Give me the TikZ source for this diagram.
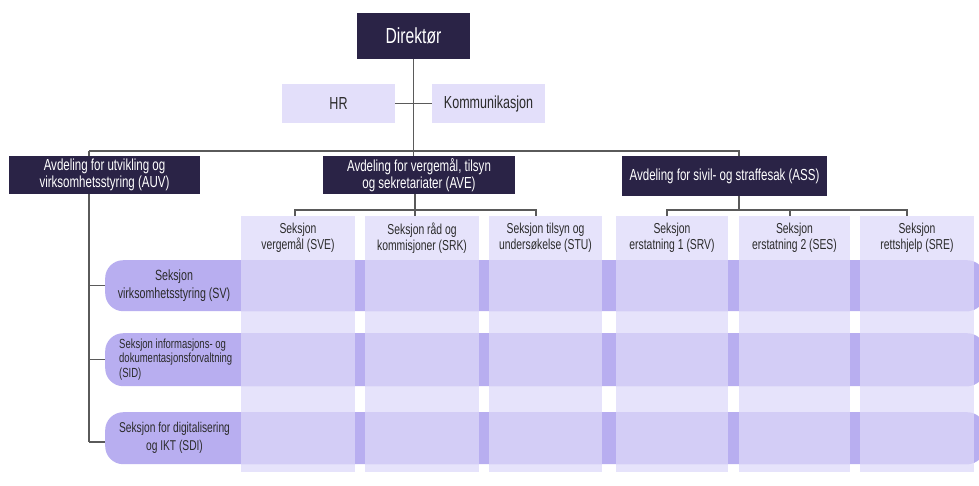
\documentclass[tikz,border=0pt]{standalone}
\usepackage{fontspec}
\setmainfont{Liberation Sans}[FakeStretch=0.72]
\usetikzlibrary{backgrounds,calc}
\pgfdeclarelayer{canvas}
\pgfsetlayers{canvas,background,main}
\definecolor{navy}{HTML}{2A2346}
\definecolor{lav}{HTML}{E3DFFA}
\definecolor{bandc}{HTML}{B8AEF0}
\definecolor{colc}{HTML}{E6E3FB}
\definecolor{lnc}{HTML}{5A5A5A}
\definecolor{txtc}{HTML}{2B2B2B}
\newcommand{\fsz}[2]{\fontsize{#1}{#2}\selectfont}
\begin{document}
\begin{tikzpicture}[x=1pt,y=-1pt,
  dark/.style={fill=navy,text=white,inner sep=0pt,align=center},
  light/.style={fill=lav,text=txtc,inner sep=0pt,align=center},
  conn/.style={draw=lnc,line width=1.1pt},
  colbox/.style={fill=colc,inner sep=0pt,minimum width=#1,minimum height=256pt,anchor=north},
  bandbox/.style={fill=bandc,inner sep=0pt,rounded corners=18pt,minimum width=880pt,anchor=north west},
  headtxt/.style={text=txtc,align=center,inner sep=0pt,font=\fsz{14.4}{15.6}},
  rowtxt/.style={text=txtc,inner sep=0pt}]
\useasboundingbox (0,0) rectangle (979,485);
\clip (0,0) rectangle (979,485);
\begin{pgfonlayer}{canvas}
\fill[white] (0,0) rectangle (979,485);
\end{pgfonlayer}

% top boxes
\node[dark,minimum width=113pt,minimum height=46pt,font=\fsz{21.8}{24}] (dir) at (413.5,36) {Direktør};
\node[light,minimum width=113pt,minimum height=39pt,font=\fsz{17.4}{20}] (hr) at (338.5,103.5) {HR};
\node[light,minimum width=113pt,minimum height=39pt,font=\fsz{17.4}{20}] (komm) at (488.5,103.5) {Kommunikasjon};

% departments
\node[dark,minimum width=191pt,minimum height=38pt,font=\fsz{16}{16.8}] (auv) at (104.5,175) {Avdeling for utvikling og\\virksomhetsstyring (AUV)};
\node[dark,minimum width=192pt,minimum height=38pt,font=\fsz{16}{16.8}] (ave) at (419,175) {Avdeling for vergemål, tilsyn\\og sekretariater (AVE)};
\node[dark,minimum width=205pt,minimum height=40pt,font=\fsz{16}{16.8}] (ass) at (724.5,176) {Avdeling for sivil- og straffesak (ASS)};

% columns
\node[colbox=114pt] (c1) at (298,216) {};
\node[colbox=114pt] (c2) at (422,216) {};
\node[colbox=113pt] (c3) at (545.5,216) {};
\node[colbox=112pt] (c4) at (672,216) {};
\node[colbox=111pt] (c5) at (794.5,216) {};
\node[colbox=114pt] (c6) at (917,216) {};

% row bands
\node[bandbox,minimum height=51pt] (r1) at (105,260) {};
\node[bandbox,minimum height=53pt] (r2) at (105,333) {};
\node[bandbox,minimum height=52pt] (r3) at (105,412) {};

% column overlays on bands
\foreach \c in {c1,c2,c3,c4,c5,c6}{
  \foreach \r in {r1,r2,r3}{
    \fill[colc,opacity=0.6] (\c.west |- \r.north) rectangle (\c.east |- \r.south);
  }
}

% header texts
\node[headtxt] (h1) at (298,238) {Seksjon\\vergemål (SVE)};
\node[headtxt] (h2) at (422,238) {Seksjon råd og\\kommisjoner (SRK)};
\node[headtxt] (h3) at (545.5,238) {Seksjon tilsyn og\\undersøkelse (STU)};
\node[headtxt] (h4) at (672,238) {Seksjon\\erstatning 1 (SRV)};
\node[headtxt] (h5) at (794.5,238) {Seksjon\\erstatning 2 (SES)};
\node[headtxt] (h6) at (917,238) {Seksjon\\rettshjelp (SRE)};

% row texts
\node[rowtxt,align=center,font=\fsz{14.8}{18}] (t1) at (174,285.5) {Seksjon\\virksomhetsstyring (SV)};
\node[rowtxt,align=left,anchor=west,font=\fsz{13.2}{14.3}] (t2) at (119,359.5) {Seksjon informasjons- og\\dokumentasjonsforvaltning\\(SID)};
\node[rowtxt,align=center,font=\fsz{14.2}{17.7}] (t3) at (174.5,438) {Seksjon for digitalisering\\og IKT (SDI)};

% connectors
\coordinate (busL) at (89,151);
\coordinate (busR) at (739,151);
\coordinate (auvEnd) at (89,442);
\coordinate (aveB) at (415,210);
\coordinate (aveL) at (295,210);
\coordinate (aveR) at (536,210);
\coordinate (assB) at (739,210);
\coordinate (assL) at (667,210);
\coordinate (assM) at (790,210);
\coordinate (assR) at (907,210);
\begin{pgfonlayer}{background}
\draw[conn] (dir.south) -- (dir.south |- ave.north);
\draw[conn] (busL) -- (busR) -- (busR |- ass.north);
\draw[conn] (busL) -- (auvEnd);
\draw[conn] (busL |- r1.west) -- (r1.west);
\draw[conn] (busL |- r2.west) -- (r2.west);
\draw[conn] (auvEnd) -- (r3.west |- auvEnd);
\end{pgfonlayer}
\draw[conn] (hr.east) -- (komm.west);
\draw[conn] (aveB |- ave.south) -- (aveB);
\draw[conn] (aveL |- c1.north) -- (aveL) -- (aveR) -- (aveR |- c3.north);
\draw[conn] (aveB) -- (aveB |- c2.north);
\draw[conn] (assB |- ass.south) -- (assB);
\draw[conn] (assL |- c4.north) -- (assL) -- (assR) -- (assR |- c6.north);
\draw[conn] (assM) -- (assM |- c5.north);
\end{tikzpicture}
\end{document}
